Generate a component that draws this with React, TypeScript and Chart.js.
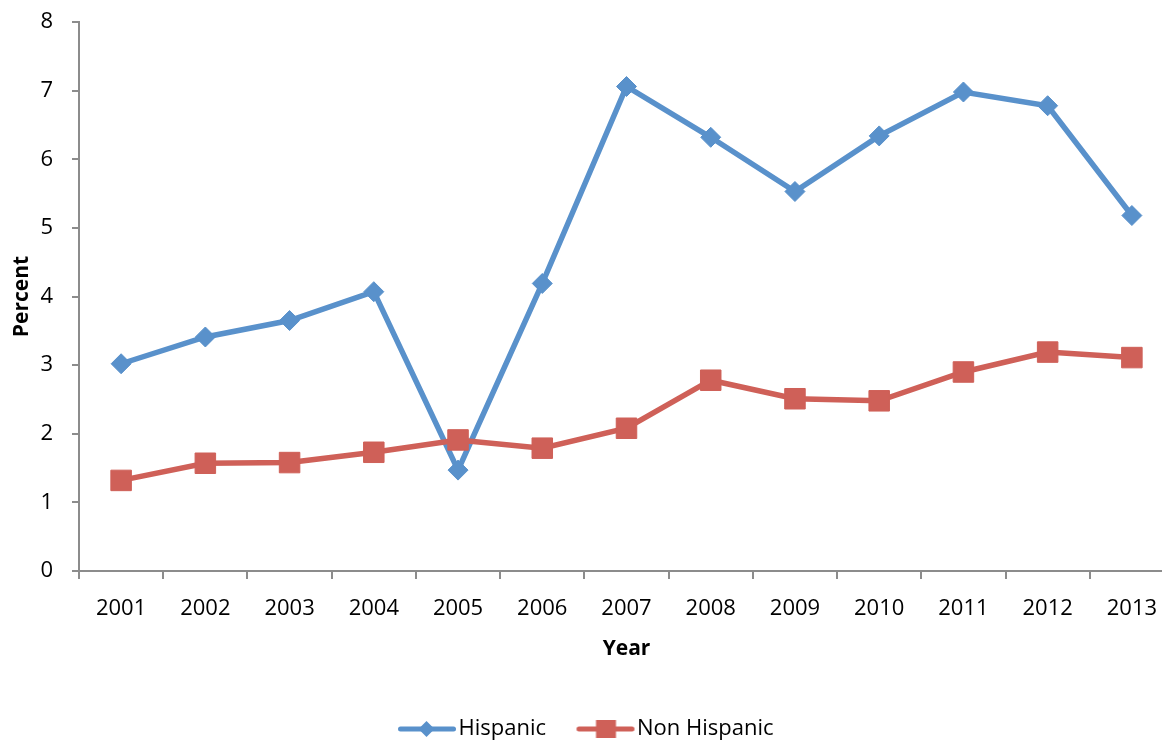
import React, { useEffect, useRef } from "react";
import { Chart, registerables } from "chart.js";

Chart.register(...registerables);

const years = ["2001", "2002", "2003", "2004", "2005", "2006", "2007", "2008", "2009", "2010", "2011", "2012", "2013"];
const hispanic = [3.02, 3.41, 3.65, 4.07, 1.47, 4.19, 7.06, 6.32, 5.53, 6.34, 6.98, 6.78, 5.18];
const nonHispanic = [1.32, 1.57, 1.58, 1.73, 1.91, 1.79, 2.08, 2.78, 2.51, 2.48, 2.9, 3.19, 3.11];
const seriesNames = ["Hispanic", "Non Hispanic"];
const yTicks = [0, 1, 2, 3, 4, 5, 6, 7, 8];

const BLUE = "#5991CB";
const RED = "#CF6058";
const AXIS = "#8C8C8C";
const FONT = "'Open Sans', 'Liberation Sans', sans-serif";

function makeLegendIcon(color: string, shape: "diamond" | "square"): HTMLCanvasElement {
  const c = document.createElement("canvas");
  c.width = 80;
  c.height = 24;
  const ctx = c.getContext("2d")!;
  ctx.strokeStyle = color;
  ctx.fillStyle = color;
  ctx.lineWidth = 5;
  ctx.lineCap = "round";
  ctx.beginPath();
  ctx.moveTo(16.5, 12);
  ctx.lineTo(69.5, 12);
  ctx.stroke();
  ctx.beginPath();
  if (shape === "diamond") {
    const cx = 42.5;
    const cy = 12;
    const r = 8;
    ctx.moveTo(cx, cy - r);
    ctx.lineTo(cx + r, cy);
    ctx.lineTo(cx, cy + r);
    ctx.lineTo(cx - r, cy);
    ctx.closePath();
  } else {
    const cx = 43.5;
    const cy = 12;
    ctx.rect(cx - 10, cy - 9, 20, 18);
  }
  ctx.fill();
  return c;
}

export default function App() {
  const ref = useRef<HTMLCanvasElement | null>(null);

  useEffect(() => {
    if (!ref.current) return;
    const icons = [makeLegendIcon(BLUE, "diamond"), makeLegendIcon(RED, "square")];
    Chart.defaults.color = "#000";
    const chart = new Chart(ref.current, {
      type: "line",
      data: {
        labels: years,
        datasets: [
          {
            label: seriesNames[0],
            data: hispanic,
            borderColor: BLUE,
            backgroundColor: BLUE,
            borderWidth: 5.5,
            pointStyle: "rectRot",
            pointRadius: 10,
            pointBorderWidth: 1,
            pointBackgroundColor: BLUE,
            pointBorderColor: BLUE,
            tension: 0,
            order: 1,
          },
          {
            label: seriesNames[1],
            data: nonHispanic,
            borderColor: RED,
            backgroundColor: RED,
            borderWidth: 5.5,
            pointStyle: "rect",
            pointRadius: 14.5,
            pointBorderWidth: 1,
            pointBackgroundColor: RED,
            pointBorderColor: RED,
            tension: 0,
            order: 0,
          },
        ],
      },
      options: {
        responsive: false,
        animation: false,
        layout: { autoPadding: false, padding: { top: 22, left: 0, right: 6, bottom: 10 } },
        scales: {
          x: {
            type: "category",
            offset: true,
            grid: {
              display: true,
              drawOnChartArea: false,
              drawTicks: true,
              tickLength: 8,
              offset: true,
              color: AXIS,
              lineWidth: 2,
            },
            border: { display: true, color: AXIS, width: 2 },
            ticks: {
              font: { family: FONT, size: 22 },
              color: "#000",
              padding: 17,
              maxRotation: 0,
              autoSkip: false,
            },
            title: {
              display: true,
              text: "Year",
              font: { family: FONT, size: 21, weight: "bold" },
              color: "#000",
              padding: { top: 0, bottom: 23.5 },
            },
            afterFit: (scale: any) => {
              scale.height = 114;
              scale.paddingLeft = 0;
              scale.paddingRight = 0;
            },
          },
          y: {
            min: 0,
            max: 8,
            afterBuildTicks: (scale: any) => {
              scale.ticks = yTicks.map((v) => ({ value: v }));
            },
            grid: {
              display: true,
              drawOnChartArea: false,
              drawTicks: true,
              tickLength: 7,
              color: AXIS,
              lineWidth: 2,
            },
            border: { display: true, color: AXIS, width: 2 },
            ticks: {
              font: { family: FONT, size: 22 },
              color: "#000",
              padding: 19,
            },
            title: {
              display: true,
              text: "Percent",
              font: { family: FONT, size: 21, weight: "bold" },
              color: "#000",
              padding: { top: 9, bottom: 0 },
            },
            afterFit: (scale: any) => {
              scale.width = 79;
              scale.paddingTop = 0;
              scale.paddingBottom = 0;
            },
          },
        },
        plugins: {
          tooltip: { enabled: false },
          legend: {
            display: true,
            position: "bottom",
            labels: {
              usePointStyle: true,
              pointStyleWidth: 47,
              padding: 33,
              color: "#000",
              font: { family: FONT, size: 22 },
              sort: (a: any, b: any) => a.datasetIndex - b.datasetIndex,
              generateLabels: (ch: any) => {
                const items = (Chart.defaults.plugins.legend.labels as any).generateLabels(ch);
                items.forEach((it: any) => {
                  it.pointStyle = icons[it.datasetIndex];
                });
                return items;
              },
            },
          },
        },
      },
    });
    return () => chart.destroy();
  }, []);

  return (
    <div style={{ position: "fixed", left: 0, top: 0, width: 1162, height: 741, overflow: "hidden", background: "#fff" }}>
      <canvas ref={ref} width={1180} height={760} style={{ display: "block" }} />
    </div>
  );
}
